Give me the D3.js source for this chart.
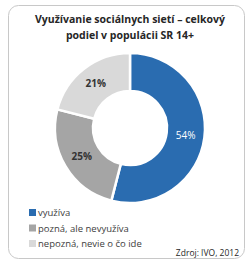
<!DOCTYPE html>
<html>
<head>
<meta charset="utf-8">
<script src="https://cdn.jsdelivr.net/npm/d3@7"></script>
<style>
  body { margin: 0; background: #fff; }
  svg { display: block; font-family: "Open Sans", "Liberation Sans", sans-serif; }
</style>
</head>
<body>
<script>
// chart data
var categories = ["využíva", "pozná, ale nevyužíva", "nepozná, nevie o čo ide"];
var values = [54, 25, 21];
var colors = ["#2a6cb0", "#a5a5a5", "#d9d9d9"];
var labelColors = ["#ffffff", "#333333", "#333333"];
var titleLines = ["Využívanie sociálnych sietí – celkový", "podiel v populácii SR 14+"];
var source = "Zdroj: IVO, 2012";

var width = 247, height = 262;
var cx = 130, cy = 128, outerR = 75, innerR = 37;

var svg = d3.select("body").append("svg")
	.attr("width", width)
	.attr("height", height);

// frame
svg.append("rect")
	.attr("x", 8.5).attr("y", 5.5)
	.attr("width", 236).attr("height", 253)
	.attr("rx", 10).attr("ry", 10)
	.attr("fill", "#fff")
	.attr("stroke", "#c8c8c8")
	.attr("stroke-width", 1);

// title
svg.append("g").selectAll("text")
	.data(titleLines)
	.enter().append("text")
	.attr("x", 130)
	.attr("y", function(d, i){ return 23 + i * 16; })
	.attr("text-anchor", "middle")
	.attr("font-size", 10.5)
	.attr("font-weight", "bold")
	.attr("fill", "#262626")
	.text(function(d){ return d; });

// donut
var pie = d3.pie().sort(null).value(function(d){ return d; });
var arc = d3.arc().innerRadius(innerR).outerRadius(outerR);
var labelArc = d3.arc().innerRadius((innerR + outerR) / 2).outerRadius((innerR + outerR) / 2);

var g = svg.append("g")
	.attr("transform", "translate(" + cx + "," + cy + ")");

var slices = pie(values);

g.selectAll("path")
	.data(slices)
	.enter().append("path")
	.attr("d", arc)
	.attr("fill", function(d, i){ return colors[i]; })
	.attr("stroke", "#fff")
	.attr("stroke-width", 2.5);

g.selectAll("text")
	.data(slices)
	.enter().append("text")
	.attr("transform", function(d){ return "translate(" + labelArc.centroid(d) + ")"; })
	.attr("dy", "0.35em")
	.attr("text-anchor", "middle")
	.attr("font-size", 10)
	.attr("font-weight", function(d, i){ return i === 0 ? "normal" : "bold"; })
	.attr("fill", function(d, i){ return labelColors[i]; })
	.text(function(d){ return d.data + "%"; });

// legend
var legend = svg.append("g")
	.selectAll("g")
	.data(categories)
	.enter().append("g")
	.attr("transform", function(d, i){ return "translate(29," + (213 + i * 15.5) + ")"; });

legend.append("rect")
	.attr("x", 0).attr("y", -4)
	.attr("width", 7).attr("height", 7)
	.attr("fill", function(d, i){ return colors[i]; });

legend.append("text")
	.attr("x", 9)
	.attr("dy", "0.35em")
	.attr("font-size", 9.5)
	.attr("fill", "#404040")
	.text(function(d){ return d; });

// source
svg.append("text")
	.attr("x", 239)
	.attr("y", 256)
	.attr("text-anchor", "end")
	.attr("font-size", 8.5)
	.attr("fill", "#262626")
	.text(source);
</script>
</body>
</html>
